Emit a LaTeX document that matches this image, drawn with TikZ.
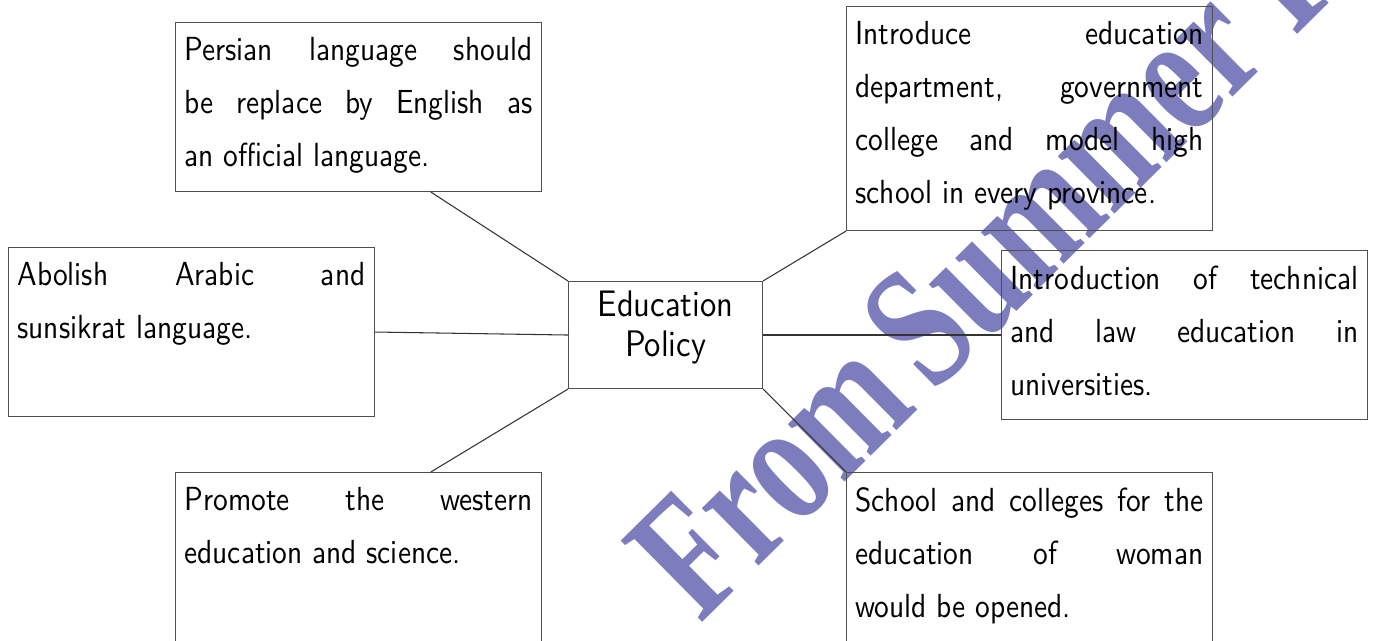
\documentclass[tikz,border=0pt]{standalone}
\usepackage{graphicx}
\usepackage{fontspec}
\setsansfont{lmsans10-regular}[Extension=.otf, FakeStretch=0.88]
\newfontfamily\markfont{Liberation Serif}
\usetikzlibrary{calc}

\definecolor{markblue}{RGB}{125,125,189}
\definecolor{edgegray}{RGB}{80,80,80}

% one justified line of a box text
\newcommand{\fullline}[1]{\makebox[\linewidth][s]{#1}\\}
\newcommand{\boxbody}[2]{\parbox[t][#1][t]{6.96cm}{#2}}

\begin{document}
\begin{tikzpicture}[
        infobox/.style={draw=edgegray, line width=0.6pt, anchor=north west,
            inner xsep=0.18cm, inner ysep=0.3cm,
            font={\sffamily\fontsize{19}{30.2}\selectfont}},
        link/.style={draw=black!80, line width=0.6pt}
    ]
    \clip (0,0) rectangle (27.48,-12.82);

    % watermark behind everything
    \node[markblue, anchor=base west, inner sep=0pt, rotate=44.7,
        font={\markfont\bfseries\fontsize{100}{100}\selectfont}]
        (mark) at (14.0,-12.5) {\scalebox{0.74}[1]{From\hspace{0.15em}Summer P}};

    \node[draw=edgegray, line width=0.6pt, anchor=north west,
        minimum width=3.88cm, minimum height=2.14cm, align=center,
        text depth=0.45cm,
        font={\sffamily\fontsize{21}{23}\selectfont}]
        (policy) at (11.36,-5.62) {Education\\Policy};

    \node[infobox] (persian) at (3.5,-0.44)
        {\boxbody{2.78cm}{\fullline{Persian language should}\fullline{be replace by English as}an official language.}};
    \node[infobox] (abolish) at (0.16,-4.94)
        {\boxbody{2.78cm}{\fullline{Abolish Arabic and}sunsikrat language.}};
    \node[infobox] (western) at (3.5,-9.44)
        {\boxbody{3.2cm}{\fullline{Promote the western}education and science.}};
    \node[infobox] (province) at (16.92,-0.12)
        {\boxbody{3.88cm}{\fullline{Introduce education}\fullline{department, government}\fullline{college and model high}school in every province.}};
    \node[infobox] (technical) at (20.02,-5.0)
        {\boxbody{2.78cm}{\fullline{Introduction of technical}\fullline{and law education in}universities.}};
    \node[infobox] (woman) at (16.92,-9.44)
        {\boxbody{3.2cm}{\fullline{School and colleges for the}\fullline{education of woman}would be opened.}};

    \draw[link] (policy.north west) -- ($(persian.south west)!0.697!(persian.south east)$);
    \draw[link] (policy.west) -- (abolish.east);
    \draw[link] (policy.south west) -- ($(western.north west)!0.697!(western.north east)$);
    \draw[link] (policy.north east) -- (province.south west);
    \draw[link, line width=1pt] (policy.east) -- (technical.west);
    \draw[link] (policy.south east) -- (woman.north west);
\end{tikzpicture}
\end{document}
